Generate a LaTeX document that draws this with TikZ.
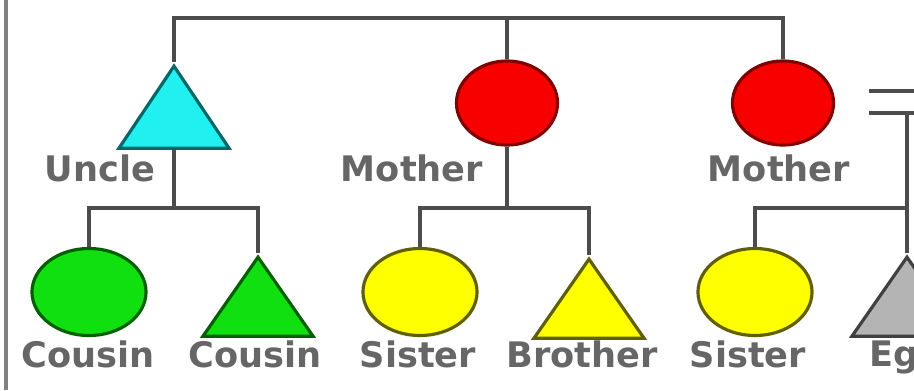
\documentclass[tikz,border=0pt]{standalone}
\usepackage{fontspec}
\setmainfont{DejaVu Sans}
\usetikzlibrary{shapes.geometric}

\definecolor{cyanfill}{HTML}{20F0F0}
\definecolor{cyanline}{HTML}{006868}
\definecolor{redfill}{HTML}{F80000}
\definecolor{redline}{HTML}{800000}
\definecolor{greenfill}{HTML}{10E010}
\definecolor{greenline}{HTML}{006000}
\definecolor{yellowfill}{HTML}{FFFF00}
\definecolor{yellowline}{HTML}{606000}
\definecolor{egofill}{HTML}{B4B4B4}
\definecolor{egoline}{HTML}{404040}

\begin{document}
\begin{tikzpicture}[x=0.01cm, y=-0.01cm,
        line/.style={draw=black!70, line width=0.9pt},
        female/.style={ellipse, draw, line width=0.9pt, inner sep=0pt, minimum width=1.14cm, minimum height=0.87cm},
        male/.style={isosceles triangle, isosceles triangle stretches, shape border rotate=90, draw, line width=0.9pt, inner sep=0pt, minimum width=1.1cm, minimum height=0.79cm, anchor=apex},
        kin/.style={text=black!60, font=\bfseries, inner sep=0pt}]
        \clip (0,0) rectangle (914,390);

        % frame edge
        \draw[gray, line width=1pt] (6,0) -- (6,390);

        % Parents row
        \node[male, fill=cyanfill, draw=cyanline, minimum height=0.82cm] (uncle) at (174,62) {};
        \node[female, fill=redfill, draw=redline, minimum width=1.01cm, minimum height=0.84cm] (mother1) at (507,103) {};
        \node[female, fill=redfill, draw=redline, minimum width=1.01cm, minimum height=0.84cm] (mother2) at (783,103) {};
        \node[kin] (uncle-txt) at (100,168) {Uncle};
        \node[kin] (mother1-txt) at (412,168) {Mother};
        \node[kin] (mother2-txt) at (779,168) {Mother};

        % Children row
        \node[female, fill=greenfill, draw=greenline] (cousin1) at (89,292) {};
        \node[male, fill=greenfill, draw=greenline] (cousin2) at (258,253) {};
        \node[female, fill=yellowfill, draw=yellowline] (sister1) at (420,292) {};
        \node[male, fill=yellowfill, draw=yellowline] (brother) at (589,255) {};
        \node[female, fill=yellowfill, draw=yellowline] (sister2) at (755,292) {};
        \node[male, fill=egofill, draw=egoline] (ego) at (907,253) {};
        \node[kin] (cousin1-txt) at (88,354) {Cousin};
        \node[kin] (cousin2-txt) at (255,354) {Cousin};
        \node[kin] (sister1-txt) at (418,354) {Sister};
        \node[kin] (brother-txt) at (582,354) {Brother};
        \node[kin] (sister2-txt) at (748,354) {Sister};
        \node[kin, anchor=base west] (ego-txt) at (869,366) {Ego};

        % Line levels
        \coordinate (top) at (0,18);
        \coordinate (bar) at (0,208);

        % Descent lines
        \draw[line] (uncle.apex) -- (uncle.apex |- top) -- (mother2.north |- top) -- (mother2.north);
        \draw[line] (mother1.north) -- (mother1.north |- top);
        \draw[line] (uncle.lower side) -- (uncle.lower side |- bar);
        \draw[line] (cousin1.north) -- (cousin1.north |- bar) -- (cousin2.apex |- bar) -- (cousin2.apex);
        \draw[line] (mother1.south) -- (mother1.south |- bar);
        \draw[line] (sister1.north) -- (sister1.north |- bar) -- (brother.apex |- bar) -- (brother.apex);

        % Marriage of the second mother
        \coordinate (wed1) at (869,91);
        \coordinate (wed2) at (869,113);
        \coordinate (spouse1) at (930,91);
        \coordinate (spouse2) at (930,113);
        \draw[line] (wed1) -- (spouse1);
        \draw[line] (wed2) -- (spouse2);
        \draw[line] (ego.apex |- wed2) -- (ego.apex);
        \draw[line] (sister2.north) -- (sister2.north |- bar) -- (ego.apex |- bar);
    \end{tikzpicture}
\end{document}
